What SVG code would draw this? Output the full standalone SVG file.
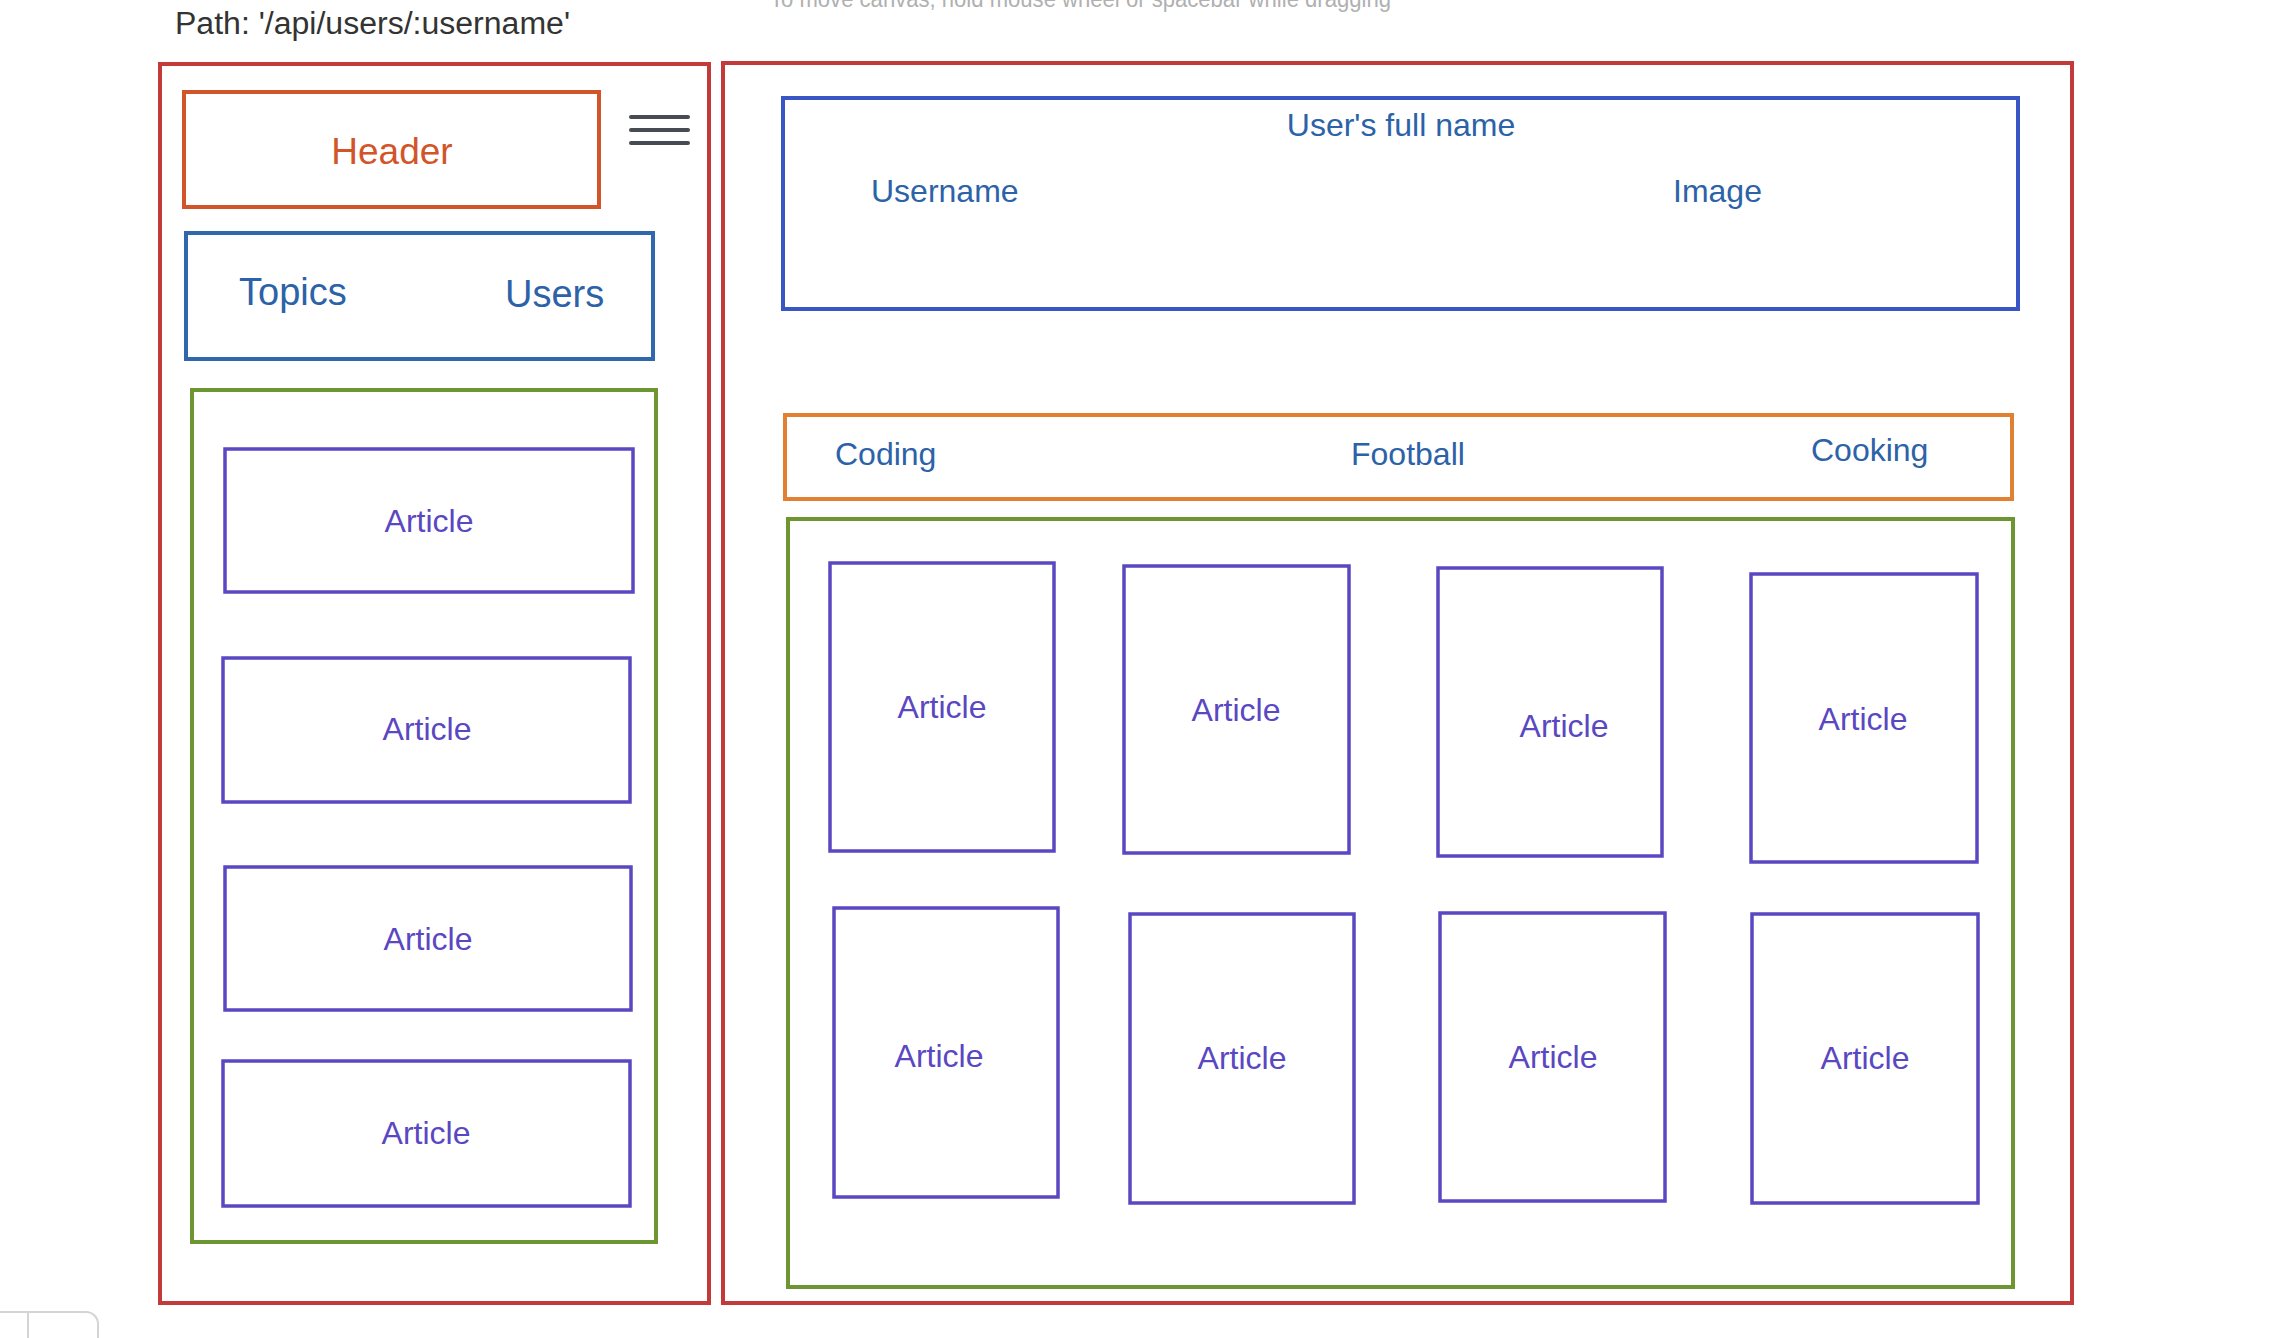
<svg xmlns="http://www.w3.org/2000/svg" width="2286" height="1338" viewBox="0 0 2286 1338">
<style>
  text { font-family: "Liberation Sans", Arial, sans-serif; }
  .red { fill: none; stroke: #c23b3a; stroke-width: 4; }
  .green { fill: none; stroke: #6d9632; stroke-width: 4; }
  .art { fill: none; stroke: #5a47c2; stroke-width: 3.5; }
  .artt { fill: #5a47c2; font-size: 32px; text-anchor: middle; }
  .bt { fill: #2b62a8; font-size: 32px; }
</style>
<rect width="2286" height="1338" fill="#ffffff"/>

<text x="770" y="7" font-family="'Open Sans', sans-serif" font-size="23" fill="#b0b0b0" textLength="621" lengthAdjust="spacingAndGlyphs">To move canvas, hold mouse wheel or spacebar while dragging</text>
<text x="175" y="34" font-size="31" fill="#333333" textLength="395" lengthAdjust="spacingAndGlyphs">Path: '/api/users/:username'</text>

<g id="left-page">
  <rect class="red" x="160" y="64" width="549" height="1239"/>
</g>
<g id="header">
  <rect x="184" y="92" width="415" height="115" fill="none" stroke="#d2552a" stroke-width="4"/>
  <text x="392" y="164" font-size="37" fill="#d2552a" text-anchor="middle">Header</text>
</g>
<g id="menu-icon" stroke="#474c52" stroke-width="4" stroke-linecap="round">
  <line x1="631" y1="117" x2="688" y2="117"/>
  <line x1="631" y1="130" x2="688" y2="130"/>
  <line x1="631" y1="143" x2="688" y2="143"/>
</g>
<g id="nav">
  <rect x="186" y="233" width="467" height="126" fill="none" stroke="#2f68ad" stroke-width="4"/>
  <text x="239" y="305" font-size="38" fill="#2b62a8">Topics</text>
  <text x="505" y="307" font-size="38" fill="#2b62a8">Users</text>
</g>
<g id="left-articles">
  <rect class="green" x="192" y="390" width="464" height="852"/>
  <g id="left-article-1"><rect class="art" x="225" y="449" width="408" height="143"/><text class="artt" x="429" y="532">Article</text></g>
  <g id="left-article-2"><rect class="art" x="223" y="658" width="407" height="144"/><text class="artt" x="427" y="740">Article</text></g>
  <g id="left-article-3"><rect class="art" x="225" y="867" width="406" height="143"/><text class="artt" x="428" y="950">Article</text></g>
  <g id="left-article-4"><rect class="art" x="223" y="1061" width="407" height="145"/><text class="artt" x="426" y="1144">Article</text></g>
</g>

<g id="right-page">
  <rect class="red" x="723" y="63" width="1349" height="1240"/>
</g>
<g id="user-info">
  <rect x="783" y="98" width="1235" height="211" fill="none" stroke="#3a55c4" stroke-width="4"/>
  <text class="bt" x="1401" y="136" text-anchor="middle">User's full name</text>
  <text class="bt" x="871" y="202">Username</text>
  <text class="bt" x="1673" y="202">Image</text>
</g>
<g id="topics-bar">
  <rect x="785" y="415" width="1227" height="84" fill="none" stroke="#e08030" stroke-width="4"/>
  <text class="bt" x="835" y="465">Coding</text>
  <text class="bt" x="1351" y="465">Football</text>
  <text class="bt" x="1811" y="461">Cooking</text>
</g>
<g id="right-articles">
  <rect class="green" x="788" y="519" width="1225" height="768"/>
  <g id="article-a"><rect class="art" x="830" y="563" width="224" height="288"/><text class="artt" x="942" y="718">Article</text></g>
  <g id="article-b"><rect class="art" x="1124" y="566" width="225" height="287"/><text class="artt" x="1236" y="721">Article</text></g>
  <g id="article-c"><rect class="art" x="1438" y="568" width="224" height="288"/><text class="artt" x="1564" y="737">Article</text></g>
  <g id="article-d"><rect class="art" x="1751" y="574" width="226" height="288"/><text class="artt" x="1863" y="730">Article</text></g>
  <g id="article-e"><rect class="art" x="834" y="908" width="224" height="289"/><text class="artt" x="939" y="1067">Article</text></g>
  <g id="article-f"><rect class="art" x="1130" y="914" width="224" height="289"/><text class="artt" x="1242" y="1069">Article</text></g>
  <g id="article-g"><rect class="art" x="1440" y="913" width="225" height="288"/><text class="artt" x="1553" y="1068">Article</text></g>
  <g id="article-h"><rect class="art" x="1752" y="914" width="226" height="289"/><text class="artt" x="1865" y="1069">Article</text></g>
</g>

<g id="corner-widget" fill="none" stroke="#d4d4d4" stroke-width="2">
  <path d="M0 1312 H86 A12 12 0 0 1 98 1324 V1340"/>
  <line x1="28" y1="1312" x2="28" y2="1340"/>
</g>
<g id="connectors"/>
</svg>
